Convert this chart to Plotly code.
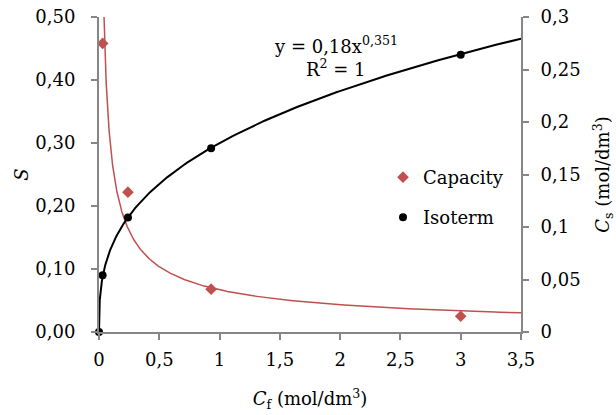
import numpy as np
import plotly.graph_objects as go

# Data
cf_capacity = [0.03, 0.24, 0.93, 3.0]
s_capacity = [0.458, 0.222, 0.068, 0.025]

cf_isoterm = [0.0, 0.03, 0.24, 0.93, 3.0]
cs_isoterm = [0.0, 0.054, 0.109, 0.175, 0.264]

# Trendline parameters (power fits)
iso_a, iso_b = 0.18, 0.351      # shown on chart: y = 0,18x^0,351
cap_a, cap_b = 0.067, -0.63     # capacity power trendline (estimated)

x_ticks = [0, 0.5, 1, 1.5, 2, 2.5, 3, 3.5]
x_ticktext = ["0", "0,5", "1", "1,5", "2", "2,5", "3", "3,5"]
y_ticks = [0, 0.1, 0.2, 0.3, 0.4, 0.5]
y_ticktext = ["0,00", "0,10", "0,20", "0,30", "0,40", "0,50"]
y2_ticks = [0, 0.05, 0.1, 0.15, 0.2, 0.25, 0.3]
y2_ticktext = ["0", "0,05", "0,1", "0,15", "0,2", "0,25", "0,3"]

RED = "#C0504D"
GRAY = "#868686"
FONT = "DejaVu Serif"
FS = 18

# plot-area geometry in pixels (for paper-coordinate placement of text)
L, R, T, B = 99, 95, 17, 83
PW, PH = 616 - L - R, 415 - T - B


def px_x(px):
    return (px - L) / PW


def px_y(py):
    return (415 - B - py) / PH


xs = np.concatenate([np.geomspace(1e-5, 0.2, 200), np.linspace(0.2, 3.5, 200)])
cap_curve_x = np.geomspace(0.02, 3.5, 400)

fig = go.Figure()

fig.add_trace(go.Scatter(x=cap_curve_x, y=cap_a * cap_curve_x ** cap_b, mode="lines",
                         line=dict(color=RED, width=1.5), showlegend=False, hoverinfo="skip"))
fig.add_trace(go.Scatter(x=np.concatenate([[0], xs]), y=np.concatenate([[0], iso_a * xs ** iso_b]),
                         mode="lines", line=dict(color="black", width=2), showlegend=False,
                         yaxis="y2", hoverinfo="skip"))
fig.add_trace(go.Scatter(x=cf_capacity, y=s_capacity, mode="markers", name="Capacity",
                         marker=dict(symbol="diamond", size=9, color=RED),
                         cliponaxis=False, legend="legend"))
fig.add_trace(go.Scatter(x=cf_isoterm, y=cs_isoterm, mode="markers", name="Isoterm",
                         marker=dict(symbol="circle", size=8, color="black"),
                         cliponaxis=False, yaxis="y2", legend="legend2"))

axis_common = dict(showgrid=False, zeroline=False, showline=True, linecolor=GRAY, linewidth=2,
                   ticks="outside", ticklen=6, tickwidth=1.5, tickcolor=GRAY, automargin=False,
                   tickfont=dict(family=FONT, size=FS, color="black"))

fig.update_layout(
    template="none",
    width=616, height=415,
    margin=dict(l=L, r=R, t=T, b=B, autoexpand=False),
    paper_bgcolor="white", plot_bgcolor="white",
    font=dict(family=FONT, size=FS, color="black"),
    xaxis=dict(range=[0, 3.5], tickvals=x_ticks, ticktext=x_ticktext, ticklabelstandoff=4,
               title=dict(text="<i>C</i><sub>f</sub> (mol/dm<sup>3</sup>)", font=dict(size=FS), standoff=24),
               **axis_common),
    yaxis=dict(range=[0, 0.5], tickvals=y_ticks, ticktext=y_ticktext, ticklabelstandoff=12,
               title=dict(text="<i>S</i>", font=dict(size=FS), standoff=2),
               **axis_common),
    yaxis2=dict(range=[0, 0.3], tickvals=y2_ticks, ticktext=y2_ticktext, overlaying="y", side="right",
                ticklabelstandoff=8,
                title=dict(text="<i>C</i><sub>s</sub> (mol/dm<sup>3</sup>)", font=dict(size=FS), standoff=18),
                **axis_common),
    legend=dict(x=px_x(383), y=px_y(159), xanchor="left", yanchor="top", bgcolor="rgba(0,0,0,0)",
                font=dict(family=FONT, size=FS)),
    legend2=dict(x=px_x(383), y=px_y(199), xanchor="left", yanchor="top", bgcolor="rgba(0,0,0,0)",
                 font=dict(family=FONT, size=FS)),
    annotations=[
        dict(xref="paper", yref="paper", x=px_x(336), y=px_y(44.5),
             text="y = 0,18x<sup>0,351</sup>", showarrow=False, font=dict(family=FONT, size=FS),
             xanchor="center", yanchor="middle"),
        dict(xref="paper", yref="paper", x=px_x(336), y=px_y(68),
             text="R<sup>2</sup> = 1", showarrow=False, font=dict(family=FONT, size=FS),
             xanchor="center", yanchor="middle"),
    ],
)

fig.write_html("out.html", config={"displayModeBar": False},
               post_script="document.body.style.margin='0';")
